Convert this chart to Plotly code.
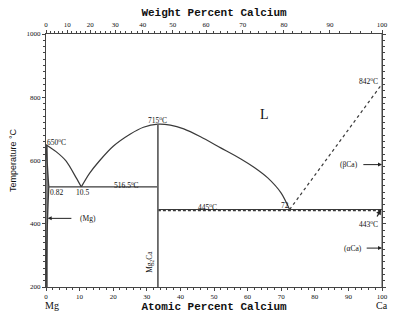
import plotly.graph_objects as go

# ---- data (atomic % Ca, temperature degC) ----
liq_left_x = [0, 3, 6, 9, 10.5]
liq_left_y = [650, 628, 598, 545, 516.5]
dome_x = [10.5, 13, 16, 20, 25, 29, 33.3, 37, 41, 46, 52, 58, 62, 66, 70, 72.5]
dome_y = [516.5, 560, 600, 645, 683, 705, 715, 712, 700, 675, 640, 605, 578, 545, 497, 445]
ca_liq_x = [72.5, 100]
ca_liq_y = [445, 842]
mg_solidus_x = [0, 0.82]
mg_solidus_y = [650, 516.5]
mg_solvus_x = [0.82, 0.6, 0.35, 0.15, 0.05]
mg_solvus_y = [516.5, 460, 380, 290, 200]
eut1_x = [0.82, 33.3]
eut1_y = [516.5, 516.5]
eut2_x = [33.3, 100]
eut2_y = [445, 445]
trans_x = [33.3, 100]
trans_y = [443, 443]
mg2ca_x = [33.3, 33.3]
mg2ca_y = [200, 715]
wt_ticks = [0, 10, 20, 30, 40, 50, 60, 70, 80, 90, 100]
wt_minor = list(range(0, 101, 2))
y_ticks = [200, 400, 600, 800, 1000]

M_MG, M_CA = 24.305, 40.078


def wt_to_at(w):
    a = w / M_CA
    b = (100 - w) / M_MG
    return 100 * a / (a + b)


col = "#3a3a3a"
fig = go.Figure()


def line(x, y, dash="solid", w=1.2, c=col, shape="linear"):
    fig.add_trace(go.Scatter(x=x, y=y, mode="lines",
                             line=dict(color=c, width=w, dash=dash, shape=shape, smoothing=0.8),
                             showlegend=False, hoverinfo="skip"))


line(liq_left_x, liq_left_y, shape="spline")
line(dome_x, dome_y, shape="spline")
line(ca_liq_x, ca_liq_y, dash="3px,3px")
line(mg_solidus_x, mg_solidus_y, w=1.3)
line(mg_solvus_x, mg_solvus_y, w=1.3, shape="spline")
line(eut1_x, eut1_y)
line(eut2_x, eut2_y, w=1.2)
line(trans_x, trans_y, dash="3px,2px", w=2)
line(mg2ca_x, mg2ca_y, w=1.8, c="#666")
line([0.3, 0.3], [200, 650], w=1.3)
# invisible trace for top axis
fig.add_trace(go.Scatter(x=[0, 100], y=[200, 200], xaxis="x2", mode="markers",
                         marker=dict(opacity=0), showlegend=False, hoverinfo="skip"))

tf = dict(family="Liberation Serif", size=7.5, color="#111")
anns = [
    (3.2, 658, "650<sup>o</sup>C"),
    (3.2, 500, "0.82"),
    (11, 500, "10.5"),
    (24, 522, "516.5<sup>o</sup>C"),
    (33.3, 727, "715<sup>o</sup>C"),
    (48, 452, "445<sup>o</sup>C"),
    (71, 458, "72"),
    (96, 852, "842<sup>o</sup>C"),
    (96, 400, "443<sup>o</sup>C"),
]
for x, y, t in anns:
    fig.add_annotation(x=x, y=y, text=t, showarrow=False, font=tf, xanchor="center", yanchor="middle")

fig.add_annotation(x=65, y=745, text="L", showarrow=False,
                   font=dict(family="Liberation Serif", size=14, color="#111"))
# arrows
fig.add_annotation(x=0.5, y=417, ax=8, ay=417, axref="x", ayref="y", text="", showarrow=True,
                   arrowhead=2, arrowsize=0.8, arrowwidth=1, arrowcolor="#222")
fig.add_annotation(x=9.5, y=417, text="(Mg)", showarrow=False, font=tf, xanchor="left")
fig.add_annotation(x=100, y=587, ax=94, ay=587, axref="x", ayref="y", text="", showarrow=True,
                   arrowhead=2, arrowsize=0.8, arrowwidth=1, arrowcolor="#222")
fig.add_annotation(x=93.5, y=587, text="(βCa)", showarrow=False, font=tf, xanchor="right")
fig.add_annotation(x=100, y=323, ax=95, ay=323, axref="x", ayref="y", text="", showarrow=True,
                   arrowhead=2, arrowsize=0.8, arrowwidth=1, arrowcolor="#222")
fig.add_annotation(x=94.5, y=323, text="(αCa)", showarrow=False, font=tf, xanchor="right")
fig.add_annotation(x=99.7, y=445, ax=98.3, ay=418, axref="x", ayref="y", text="", showarrow=True,
                   arrowhead=2, arrowsize=0.8, arrowwidth=1.3, arrowcolor="#222")
fig.add_annotation(x=31, y=280, text="Mg<sub>2</sub>Ca", showarrow=False, textangle=-90,
                   font=dict(family="Liberation Serif", size=7.5, color="#111"))
fig.add_annotation(x=-0.01, y=-0.045, xref="paper", yref="paper", text="Mg", showarrow=False,
                   xanchor="left", yanchor="top",
                   font=dict(family="Liberation Serif", size=10, color="#111"))
fig.add_annotation(x=1.0, y=-0.045, xref="paper", yref="paper", text="Ca", showarrow=False,
                   xanchor="center", yanchor="top",
                   font=dict(family="Liberation Serif", size=10, color="#111"))

axfont = dict(family="Liberation Serif", size=7, color="#111")
titlefont = dict(family="Liberation Mono", size=11, color="#111")
fig.update_layout(
    width=400, height=322,
    margin=dict(l=43, r=18, t=33, b=35),
    plot_bgcolor="white", paper_bgcolor="white",
    xaxis=dict(range=[0, 100], tickvals=list(range(0, 101, 10)), ticks="outside", ticklen=3,
               tickfont=axfont, showgrid=False, zeroline=False, showline=True, linecolor="#444",
               linewidth=1,
               minor=dict(dtick=2, ticks="outside", ticklen=2, tickcolor="#444"),
               title=dict(text="<b>Atomic Percent Calcium</b>", font=titlefont, standoff=0)),
    xaxis2=dict(range=[0, 100], overlaying="x", side="top", tickvals=[wt_to_at(w) for w in wt_ticks],
                ticktext=[str(w) for w in wt_ticks], ticks="outside", ticklen=3, tickfont=axfont,
                showgrid=False, zeroline=False, showline=True, linecolor="#444", linewidth=1,
                minor=dict(tickvals=[wt_to_at(w) for w in wt_minor], ticks="outside", ticklen=2,
                           tickcolor="#444"),
                title=dict(text="<b>Weight Percent Calcium</b>", font=titlefont, standoff=2)),
    yaxis=dict(range=[200, 1000], tickvals=y_ticks, ticks="outside", ticklen=3, tickfont=axfont,
               showgrid=False, zeroline=False, showline=True, linecolor="#444", linewidth=1,
               mirror="ticks",
               minor=dict(dtick=20, ticks="outside", ticklen=2, tickcolor="#444"),
               title=dict(text="Temperature °C", font=dict(family="Liberation Sans", size=9, color="#111"),
                          standoff=8)),
)
fig.add_shape(type="line", xref="x", yref="paper", x0=100, x1=100, y0=0, y1=1,
              line=dict(color="#444", width=1))
fig.write_html("out.html")
